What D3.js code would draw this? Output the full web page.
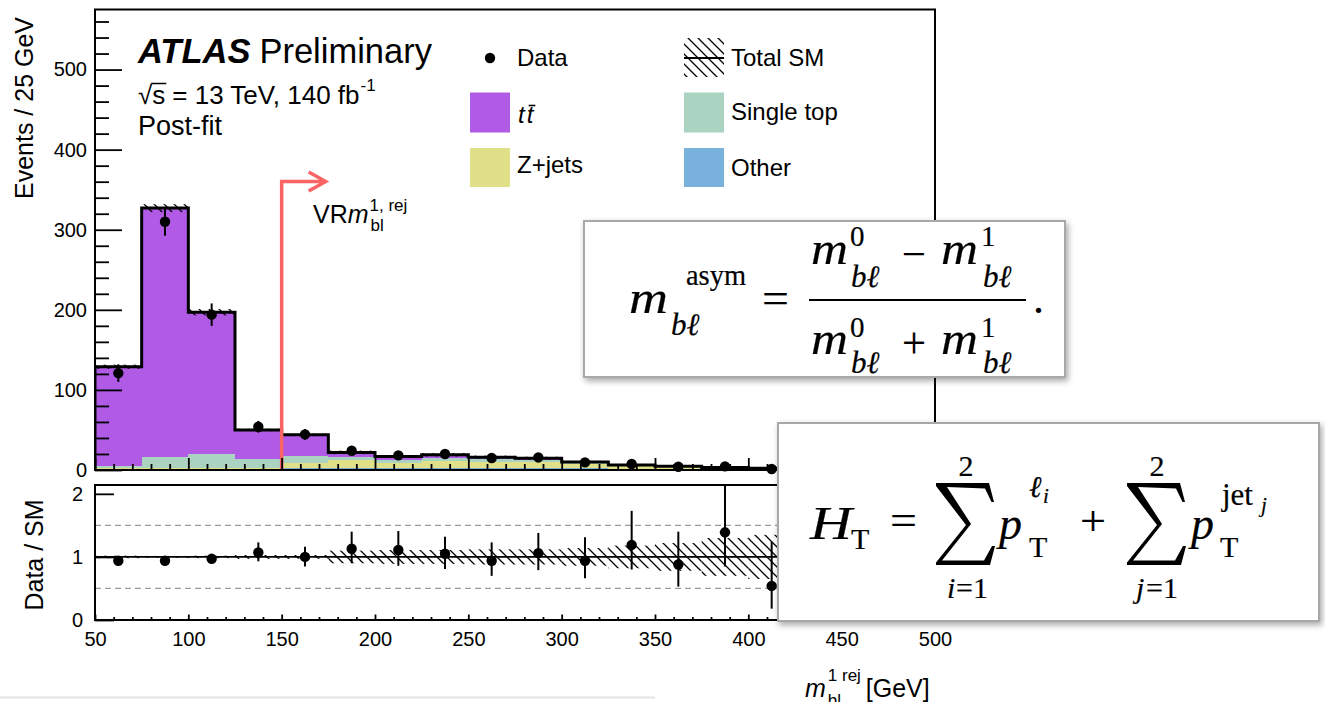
<!DOCTYPE html>
<html>
<head>
<meta charset="utf-8">
<script src="https://cdn.jsdelivr.net/npm/d3@7"></script>
<style>
  html, body { margin: 0; padding: 0; background: #fff; }
  svg { display: block; }
  text { font-family: "Liberation Sans", Arial, Helvetica, sans-serif; fill: #000; }
  .serif { font-family: "Liberation Serif", "Times New Roman", serif; stroke: #000; stroke-width: 0.2; }
</style>
</head>
<body>
<svg id="chart" width="1325" height="702"></svg>
<script>
// ---- binning (25 GeV bins) ----
const binLow = [50, 75, 100, 125, 150, 175, 200, 225, 250, 275, 300, 325, 350, 375, 400];
const binWidth = 25;

// ---- post-fit background yields per bin ----
const ttbar     = [124, 310.5, 176.5, 36.5, 26, 6, 4.3, 3.5, 2, 1.8, 1, 0.6, 0.4, 0.3, 0.2];
const singleTop = [3, 14, 18, 11, 9.5, 4, 4, 4, 3.5, 3, 2, 1.2, 0.9, 0.5, 0.4];
const zJets     = [0.5, 1, 1, 1, 6, 9, 6, 9, 8, 7.5, 5, 3, 2.2, 1.5, 1];
const other     = [1.5, 1.5, 1.5, 1.5, 2.5, 3, 2.5, 2.5, 2.5, 2.5, 2, 1.5, 1.2, 0.9, 0.6];
// relative uncertainty on the total SM prediction
const sysUnc    = [0.02, 0.015, 0.02, 0.03, 0.03, 0.10, 0.11, 0.11, 0.12, 0.12, 0.14, 0.18, 0.22, 0.30, 0.35];

// ---- observed data ----
const dataVals = [121, 310, 194, 54, 44.5, 24, 18.3, 20, 15, 15.7, 9.5, 7.5, 4.1, 4.5, 1.2];
const dataErr  = [11, 17.6, 14, 7.3, 6.7, 4.9, 4.3, 4.5, 3.9, 4, 3.1, 2.7, 2.0, 2.1, 1.1];

// ---- Data / SM ratio ----
const ratioVals  = [0.94, 0.94, 0.97, 1.07, 1.0, 1.13, 1.11, 1.05, 0.94, 1.06, 0.94, 1.19, 0.88, 1.39, 0.54];
const ratioErrLo = [0.05, 0.05, 0.06, 0.14, 0.15, 0.23, 0.25, 0.24, 0.24, 0.27, 0.28, 0.39, 0.35, 0.54, 0.36];
const ratioErrHi = [0.05, 0.05, 0.06, 0.16, 0.16, 0.27, 0.30, 0.27, 0.29, 0.32, 0.37, 0.54, 0.52, 0.90, 0.70];

// ---- axis ticks ----
const xMajorTicks = [50, 100, 150, 200, 250, 300, 350, 400, 450, 500];
const xTickLabels = ["50", "100", "150", "200", "250", "300", "350", "400", "450", "500"];
const yMainTicks = [0, 100, 200, 300, 400, 500];
const yRatioTicks = [0, 1, 2];
const vrCut = 150;

const colors = { ttbar: "#b05ae6", singleTop: "#aad4c1", zJets: "#dfe087", other: "#78b1dc" };
const redArrow = "#fa6464";

const svg = d3.select("#chart");
const defs = svg.append("defs");

// diagonal hatch for the SM uncertainty
const hatch = defs.append("pattern").attr("id", "hatch")
  .attr("patternUnits", "userSpaceOnUse").attr("width", 10).attr("height", 10);
hatch.append("path").attr("d", "M-5,5 L5,15 M0,0 L10,10 M5,-5 L15,5")
  .attr("stroke", "#000").attr("stroke-width", 1.3);

const shadow = defs.append("filter").attr("id", "shadow")
  .attr("x", "-5%").attr("y", "-10%").attr("width", "115%").attr("height", "130%");
shadow.append("feDropShadow").attr("dx", 2).attr("dy", 3).attr("stdDeviation", 3)
  .attr("flood-color", "#000").attr("flood-opacity", 0.35);

// ---- scales ----
const x = d3.scaleLinear().domain([50, 500]).range([95, 935]);
const y = d3.scaleLinear().domain([0, 575]).range([470, 9.5]);
const yr = d3.scaleLinear().domain([0, 2.14]).range([620, 485]);

defs.append("clipPath").attr("id", "clipMain").append("rect")
  .attr("x", 95).attr("y", 9.5).attr("width", 840).attr("height", 460.5);
defs.append("clipPath").attr("id", "clipRatio").append("rect")
  .attr("x", 95).attr("y", 485).attr("width", 840).attr("height", 135);

// ---- stacked backgrounds ----
const bins = binLow.map((lo, i) => ({
  lo, hi: lo + binWidth, center: lo + binWidth / 2,
  other: other[i], zJets: zJets[i], singleTop: singleTop[i], ttbar: ttbar[i]
}));
const keys = ["other", "zJets", "singleTop", "ttbar"];
const stacked = d3.stack().keys(keys)(bins);
const totals = bins.map(b => keys.reduce((s, k) => s + b[k], 0));

const main = svg.append("g").attr("clip-path", "url(#clipMain)");
stacked.forEach(layer => {
  main.append("g").selectAll("rect").data(layer).join("rect")
    .attr("x", d => x(d.data.lo))
    .attr("width", d => x(d.data.hi) - x(d.data.lo))
    .attr("y", d => y(d[1]))
    .attr("height", d => y(d[0]) - y(d[1]))
    .attr("fill", colors[layer.key])
    .attr("shape-rendering", "crispEdges");
});

// uncertainty band on the total
main.append("g").selectAll("rect").data(bins).join("rect")
  .attr("x", d => x(d.lo)).attr("width", d => x(d.hi) - x(d.lo))
  .attr("y", (d, i) => y(totals[i] * (1 + sysUnc[i])))
  .attr("height", (d, i) => y(totals[i] * (1 - sysUnc[i])) - y(totals[i] * (1 + sysUnc[i])))
  .attr("fill", "url(#hatch)");

// total SM outline
const outlinePts = [[binLow[0], 0]];
bins.forEach((b, i) => { outlinePts.push([b.lo, totals[i]]); outlinePts.push([b.hi, totals[i]]); });
outlinePts.push([bins[bins.length - 1].hi, 0]);
main.append("path")
  .attr("d", d3.line().x(d => x(d[0])).y(d => y(d[1]))(outlinePts))
  .attr("fill", "none").attr("stroke", "#000").attr("stroke-width", 3)
  .attr("stroke-linejoin", "miter");

// VR selection arrow
const arrowTop = 181.5;
svg.append("path")
  .attr("d", `M${x(vrCut)},${y(0)} V${arrowTop} H${x(vrCut) + 43}`)
  .attr("fill", "none").attr("stroke", redArrow).attr("stroke-width", 3.5);
svg.append("path")
  .attr("d", `M${x(vrCut) + 27},${arrowTop - 9.5} L${x(vrCut) + 44},${arrowTop} L${x(vrCut) + 27},${arrowTop + 9.5}`)
  .attr("fill", "none").attr("stroke", redArrow).attr("stroke-width", 3.5);

// data points
const dataG = svg.append("g");
dataG.selectAll("line").data(bins).join("line")
  .attr("x1", d => x(d.center)).attr("x2", d => x(d.center))
  .attr("y1", (d, i) => y(dataVals[i] + dataErr[i]))
  .attr("y2", (d, i) => y(Math.max(0, dataVals[i] - dataErr[i])))
  .attr("stroke", "#000").attr("stroke-width", 2);
dataG.selectAll("circle").data(bins).join("circle")
  .attr("cx", d => x(d.center)).attr("cy", (d, i) => y(dataVals[i]))
  .attr("r", 5.2).attr("fill", "#000");

// ---- main panel axes ----
svg.append("g").attr("transform", "translate(95,0)")
  .call(d3.axisLeft(y).tickValues(yMainTicks).tickSize(-27).tickPadding(8).tickFormat(d3.format("d")));
svg.append("g").attr("transform", "translate(95,0)")
  .call(d3.axisLeft(y).tickValues(d3.range(0, 576, 20).filter(v => v % 100 !== 0)).tickSize(-14).tickFormat(""));
svg.append("g").attr("transform", "translate(0,470)")
  .call(d3.axisBottom(x).tickValues(xMajorTicks).tickSize(-12).tickFormat(""));
svg.append("g").attr("transform", "translate(0,470)")
  .call(d3.axisBottom(x).tickValues(d3.range(60, 500, 10).filter(v => v % 50 !== 0)).tickSize(-6).tickFormat(""));

svg.append("rect").attr("x", 95).attr("y", 9.5).attr("width", 840).attr("height", 460.5)
  .attr("fill", "none").attr("stroke", "#000").attr("stroke-width", 2);

// ---- ratio panel ----
const ratio = svg.append("g");
ratio.append("g").attr("clip-path", "url(#clipRatio)").selectAll("rect").data(bins).join("rect")
  .attr("x", d => x(d.lo)).attr("width", d => x(d.hi) - x(d.lo))
  .attr("y", (d, i) => yr(1 + sysUnc[i]))
  .attr("height", (d, i) => yr(1 - sysUnc[i]) - yr(1 + sysUnc[i]))
  .attr("fill", "url(#hatch)");
[0.5, 1.5].forEach(v => ratio.append("line")
  .attr("x1", 95).attr("x2", 935).attr("y1", yr(v)).attr("y2", yr(v))
  .attr("stroke", "#9a9a9a").attr("stroke-width", 1.3).attr("stroke-dasharray", "6,4"));
ratio.append("line").attr("x1", 95).attr("x2", 935).attr("y1", yr(1)).attr("y2", yr(1))
  .attr("stroke", "#000").attr("stroke-width", 1.8);

const ratioPts = ratio.append("g").attr("clip-path", "url(#clipRatio)");
ratioPts.selectAll("line").data(bins).join("line")
  .attr("x1", d => x(d.center)).attr("x2", d => x(d.center))
  .attr("y1", (d, i) => yr(ratioVals[i] + ratioErrHi[i]))
  .attr("y2", (d, i) => yr(ratioVals[i] - ratioErrLo[i]))
  .attr("stroke", "#000").attr("stroke-width", 2);
ratioPts.selectAll("circle").data(bins).join("circle")
  .attr("cx", d => x(d.center)).attr("cy", (d, i) => yr(ratioVals[i]))
  .attr("r", 5.2).attr("fill", "#000");

svg.append("g").attr("transform", "translate(95,0)")
  .call(d3.axisLeft(yr).tickValues(yRatioTicks).tickSize(-19).tickPadding(12).tickFormat(d3.format("d")));
svg.append("g").attr("transform", "translate(0,620)")
  .call(d3.axisBottom(x).tickValues(xMajorTicks).tickSize(-5.5).tickPadding(12)
    .tickFormat((d, i) => xTickLabels[i]));
svg.append("g").attr("transform", "translate(0,620)")
  .call(d3.axisBottom(x).tickValues(d3.range(60, 500, 10).filter(v => v % 50 !== 0)).tickSize(-3).tickFormat(""));
svg.append("rect").attr("x", 95).attr("y", 485).attr("width", 840).attr("height", 135)
  .attr("fill", "none").attr("stroke", "#000").attr("stroke-width", 2);

// axis styling
svg.selectAll(".domain").remove();
svg.selectAll(".tick line").attr("stroke", "#000").attr("stroke-width", 1.8);
svg.selectAll(".tick text").attr("font-size", 20).attr("font-family", "Liberation Sans, Arial, sans-serif");

// ---- axis titles ----
svg.append("text").attr("transform", "translate(33,108) rotate(-90)")
  .attr("text-anchor", "middle").attr("font-size", 25).text("Events / 25 GeV");
svg.append("text").attr("transform", "translate(43,555) rotate(-90)")
  .attr("text-anchor", "middle").attr("font-size", 25).text("Data / SM");

// helper: place a sequence of text runs, advancing by measured widths
function runs(g, x0, y0, parts) {
  let cx = x0;
  parts.forEach(p => {
    const t = g.append("text").attr("x", cx + (p.dx || 0)).attr("y", y0 + (p.dy || 0))
      .attr("font-size", p.size).text(p.t);
    if (p.italic) t.attr("font-style", "italic");
    if (p.bold) t.attr("font-weight", "bold");
    const w = t.node().getComputedTextLength();
    cx += (p.dx || 0) + (p.adv !== undefined ? p.adv : w);
  });
  return cx;
}

// x-axis title
runs(svg, 805, 697, [
  { t: "m", size: 25, italic: true },
  { t: "1 rej", size: 17, dy: -16, dx: 2, adv: 0 },
  { t: "bl", size: 17, dy: 9, dx: 0, adv: 31 },
  { t: "[GeV]", size: 25, dx: 7 }
]);

// ---- ATLAS label ----
runs(svg, 138, 63, [
  { t: "ATLAS", size: 34.5, italic: true, bold: true },
  { t: "Preliminary", size: 34.5, dx: 9 }
]);
const sq = svg.append("text").attr("x", 138).attr("y", 104).attr("font-size", 26).text("√s");
{
  const n = sq.node();
  const s0 = n.getStartPositionOfChar(1).x, s1 = n.getEndPositionOfChar(1).x;
  svg.append("line").attr("x1", s0 - 1).attr("x2", s1 + 1).attr("y1", 83.5).attr("y2", 83.5)
    .attr("stroke", "#000").attr("stroke-width", 1.5);
  runs(svg, s1 + 7, 104, [
    { t: "= 13 TeV, 140 fb", size: 26 },
    { t: "-1", size: 17, dy: -13, dx: 1 }
  ]);
}
svg.append("text").attr("x", 138).attr("y", 135).attr("font-size", 27).text("Post-fit");

// VR label
runs(svg, 313, 223, [
  { t: "VR", size: 25 },
  { t: "m", size: 25, italic: true },
  { t: "1, rej", size: 17, dy: -12, dx: 1, adv: 0 },
  { t: "bl", size: 17, dy: 8, dx: 1 }
]);

// ---- legend ----
const leg = svg.append("g");
leg.append("circle").attr("cx", 490).attr("cy", 58).attr("r", 5.2).attr("fill", "#000");
leg.append("text").attr("x", 517).attr("y", 66).attr("font-size", 24).text("Data");
leg.append("rect").attr("x", 470).attr("y", 92.5).attr("width", 40).attr("height", 40).attr("fill", colors.ttbar);
const tt = leg.append("text").attr("x", 518).attr("y", 123).attr("font-size", 24)
  .attr("font-style", "italic").attr("letter-spacing", 2).text("tt");
{
  const n = tt.node();
  const a = n.getStartPositionOfChar(1).x, b = n.getEndPositionOfChar(1).x;
  leg.append("line").attr("x1", a + 2).attr("x2", b).attr("y1", 105.5).attr("y2", 105.5)
    .attr("stroke", "#000").attr("stroke-width", 1.6);
}
leg.append("rect").attr("x", 470).attr("y", 148).attr("width", 40).attr("height", 39).attr("fill", colors.zJets);
leg.append("text").attr("x", 517).attr("y", 173).attr("font-size", 24).text("Z+jets");

leg.append("rect").attr("x", 684).attr("y", 38).attr("width", 40).attr("height", 39).attr("fill", "url(#hatch)");
leg.append("line").attr("x1", 684).attr("x2", 724).attr("y1", 58).attr("y2", 58)
  .attr("stroke", "#000").attr("stroke-width", 2);
leg.append("text").attr("x", 731).attr("y", 66).attr("font-size", 24).text("Total SM");
leg.append("rect").attr("x", 684).attr("y", 92.5).attr("width", 40).attr("height", 40).attr("fill", colors.singleTop);
leg.append("text").attr("x", 731).attr("y", 120).attr("font-size", 24).text("Single top");
leg.append("rect").attr("x", 684).attr("y", 148).attr("width", 40).attr("height", 39).attr("fill", colors.other);
leg.append("text").attr("x", 731).attr("y", 176).attr("font-size", 24).text("Other");

// ---- formula panels ----
function piece(g, p) {
  const t = g.append("text").attr("class", "serif").attr("x", p.x).attr("y", p.y)
    .attr("font-size", p.s).text(p.t);
  if (p.i) t.attr("font-style", "italic");
  if (p.anchor) t.attr("text-anchor", p.anchor);
  if (p.len) t.attr("textLength", p.len).attr("lengthAdjust", "spacingAndGlyphs");
  return t;
}

// large summation sign drawn as an outline (top-left at sx, sy; 58 x 82 px)
function sumSign(g, sx, sy) {
  const pts = [[0, 0], [53, 0], [58, 19], [55.5, 19], [49, 5.5], [11, 4], [35, 41], [6, 77.5],
               [48, 77.5], [56, 63], [59, 63], [54, 82], [0, 82], [0, 79.5], [30, 42], [0, 3]];
  g.append("path")
    .attr("d", d3.line()(pts.map(p => [sx + p[0], sy + p[1]])) + "Z")
    .attr("fill", "#000");
}

// m_bl asymmetry
const box1 = svg.append("g");
box1.append("rect").attr("x", 584).attr("y", 221).attr("width", 481).attr("height", 156)
  .attr("fill", "#fff").attr("stroke", "#a8a8a8").attr("stroke-width", 2).attr("filter", "url(#shadow)");
[
  { t: "m", x: 629, y: 313, s: 46, i: true, len: 39 },
  { t: "asym", x: 686, y: 285, s: 29, len: 60 },
  { t: "bℓ", x: 671, y: 335, s: 31, i: true },
  { t: "=", x: 762, y: 313, s: 44, len: 27 },
  { t: "m", x: 811, y: 264, s: 46, i: true, len: 37 },
  { t: "0", x: 850, y: 246, s: 29 },
  { t: "bℓ", x: 851, y: 287, s: 31, i: true },
  { t: "−", x: 902, y: 269, s: 44, len: 24 },
  { t: "m", x: 941, y: 264, s: 46, i: true, len: 37 },
  { t: "1", x: 981, y: 246, s: 29 },
  { t: "bℓ", x: 983, y: 287, s: 31, i: true },
  { t: "m", x: 811, y: 354, s: 46, i: true, len: 37 },
  { t: "0", x: 850, y: 337, s: 29 },
  { t: "bℓ", x: 851, y: 373, s: 31, i: true },
  { t: "+", x: 902, y: 358, s: 44, len: 24 },
  { t: "m", x: 941, y: 354, s: 46, i: true, len: 37 },
  { t: "1", x: 981, y: 337, s: 29 },
  { t: "bℓ", x: 983, y: 373, s: 31, i: true },
  { t: ".", x: 1033, y: 313, s: 44 }
].forEach(p => piece(box1, p));
box1.append("line").attr("x1", 809).attr("x2", 1026).attr("y1", 300).attr("y2", 300)
  .attr("stroke", "#000").attr("stroke-width", 2.2);

// H_T definition
const box2 = svg.append("g");
box2.append("rect").attr("x", 778).attr("y", 423).attr("width", 541).attr("height", 198)
  .attr("fill", "#fff").attr("stroke", "#a8a8a8").attr("stroke-width", 2).attr("filter", "url(#shadow)");
[
  { t: "H", x: 810, y: 539, s: 46, i: true, len: 42 },
  { t: "T", x: 851, y: 549, s: 30 },
  { t: "=", x: 890, y: 534, s: 42, len: 27 },
  { t: "2", x: 966, y: 476, s: 30, anchor: "middle" },
  { t: "i", x: 947, y: 598, s: 30, i: true },
  { t: "=1", x: 956, y: 598, s: 30 },
  { t: "p", x: 999, y: 539, s: 46, i: true },
  { t: "ℓ", x: 1029, y: 497, s: 30, i: true },
  { t: "i", x: 1043, y: 503, s: 21, i: true },
  { t: "T", x: 1029, y: 557, s: 30 },
  { t: "+", x: 1080, y: 535, s: 42, len: 26 },
  { t: "2", x: 1157, y: 476, s: 30, anchor: "middle" },
  { t: "j", x: 1136, y: 598, s: 30, i: true },
  { t: "=1", x: 1146, y: 598, s: 30 },
  { t: "p", x: 1191, y: 539, s: 46, i: true },
  { t: "jet", x: 1222, y: 505, s: 31 },
  { t: "j", x: 1261, y: 512, s: 21, i: true },
  { t: "T", x: 1220, y: 557, s: 30 }
].forEach(p => piece(box2, p));
sumSign(box2, 936, 483);
sumSign(box2, 1127, 483);

// page divider line
svg.append("line").attr("x1", 0).attr("x2", 655).attr("y1", 697.5).attr("y2", 697.5)
  .attr("stroke", "#e2e2e2").attr("stroke-width", 2);
</script>
</body>
</html>
